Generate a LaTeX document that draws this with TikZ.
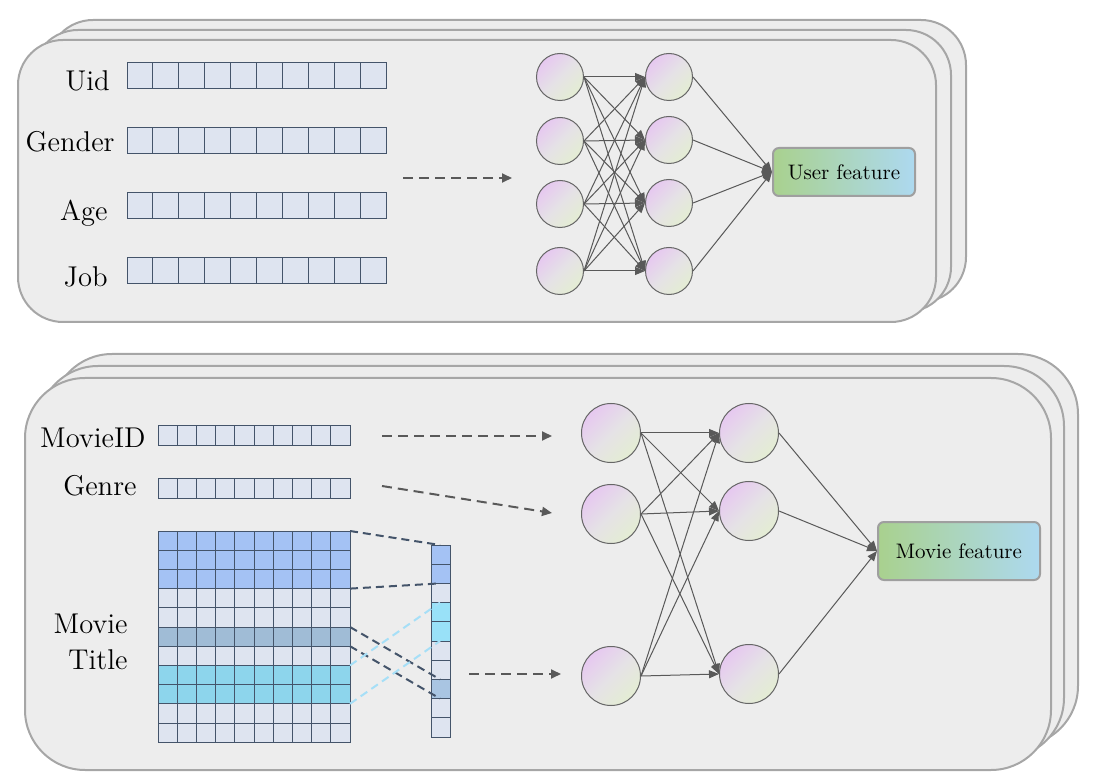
\documentclass[tikz,border=0pt]{standalone}
\usepackage{tikz}
\usetikzlibrary{arrows.meta, positioning}

\definecolor{panelfill}{HTML}{EDEDED}
\definecolor{panelline}{HTML}{A6A6A6}
\definecolor{cellfill}{HTML}{DEE4F0}
\definecolor{cellline}{HTML}{44546A}
\definecolor{wordblue}{HTML}{A4C2F4}
\definecolor{wordcyan}{HTML}{8DD5EC}
\definecolor{wordgray}{HTML}{A0BCD6}
\definecolor{veccyan}{HTML}{99E1F8}
\definecolor{vecgray}{HTML}{A9C5E2}
\definecolor{linkcyan}{HTML}{A6DFF7}
\definecolor{nlilac}{HTML}{E6C8F0}
\definecolor{nmid}{HTML}{E5E2E6}
\definecolor{ngreen}{HTML}{E4EDD3}
\definecolor{featgreen}{HTML}{A9D18E}
\definecolor{featblue}{HTML}{ADD9F0}
\definecolor{arrowgray}{HTML}{595959}

\newcommand{\fieldfont}{\fontsize{14.3}{17}\selectfont}
\newcommand{\featfont}{\fontsize{10.5}{12}\selectfont}

\tikzset{
  panel/.style={draw=panelline, fill=panelfill, line width=1pt},
  cell/.style={draw=cellline, line width=0.5pt},
  fieldname/.style={font=\fieldfont, inner sep=0pt},
  neuron/.style={circle, draw=gray!80!black, line width=0.5pt, inner sep=0pt,
    top color=nlilac, bottom color=ngreen, middle color=nmid, shading angle=45},
  feature/.style={draw=gray!75, line width=1pt, rounded corners=3pt, font=\featfont,
    left color=featgreen, right color=featblue},
  synapse/.style={draw=arrowgray, line width=0.5pt, -{Triangle[length=5pt,width=4pt]}},
  flow/.style={draw=arrowgray, line width=1pt, dash pattern=on 5pt off 3pt,
    -{Triangle[length=5pt,width=4.5pt]}},
  darklink/.style={draw=cellline, line width=1pt, dash pattern=on 4pt off 2.5pt},
  cyanlink/.style={draw=linkcyan, line width=1pt, dash pattern=on 4pt off 2.5pt}
}

\begin{document}
\begin{tikzpicture}[x=0.5pt, y=-0.5pt]
\useasboundingbox (0,0) rectangle (1100,781);

% user side
\draw[panel, rounded corners=22.5pt] (48,20) rectangle (966,302);
\draw[panel, rounded corners=22.5pt] (33,30) rectangle (951,312);
\draw[panel, rounded corners=22.5pt] (18,40) rectangle (936,322);

\node[fieldname, anchor=base east] (uid) at (110,91) {Uid};
\node[fieldname, anchor=base east] (gender) at (115,152) {Gender};
\node[fieldname, anchor=base east] (age) at (108,221) {Age};
\node[fieldname, anchor=base east] (job) at (108,286) {Job};
\foreach \y in {63,128,193,258}
  \foreach \i in {0,...,9}
    \draw[cell, fill=cellfill] (127+\i*25.9,\y) rectangle ++(25.9,26);

\coordinate (userin) at (403,178);
\coordinate (userout) at (512,178);
\draw[flow] (userin) -- (userout);

\foreach \y [count=\i] in {77,141,204,271}
  \node[neuron, minimum size=23.5pt] (ua\i) at (560,\y) {};
\foreach \y [count=\i] in {77,140,203,271}
  \node[neuron, minimum size=23.5pt] (ub\i) at (669,\y) {};
\node[feature, minimum width=71pt, minimum height=24pt] (user) at (844,172) {User feature};

\foreach \i in {1,...,4}
  \foreach \j in {1,...,4}
    \draw[synapse] (ua\i.east) -- (ub\j.west);
\foreach \j in {1,...,4}
  \draw[synapse] (ub\j.east) -- (user.west);

% movie side
\draw[panel, rounded corners=30pt] (52,354) rectangle (1078,746);
\draw[panel, rounded corners=30pt] (38,366) rectangle (1064,758);
\draw[panel, rounded corners=30pt] (25,378) rectangle (1051,770);

\node[fieldname, anchor=base east] (movieid) at (146,448) {MovieID};
\node[fieldname, anchor=base east] (genre) at (137,495) {Genre};
\node[fieldname, anchor=base east] (movie) at (128,633) {Movie};
\node[fieldname, anchor=base east] (title) at (128,669) {Title};

\foreach \y in {426,479}
  \foreach \i in {0,...,9}
    \draw[cell, fill=cellfill] (158+\i*19.2,\y) rectangle ++(19.2,19.2);

% title words and pooled vector
\foreach \r/\c in {0/wordblue,1/wordblue,2/wordblue,3/cellfill,4/cellfill,5/wordgray,
                   6/cellfill,7/wordcyan,8/wordcyan,9/cellfill,10/cellfill}
  \foreach \i in {0,...,9}
    \draw[cell, fill=\c] (158+\i*19.2,531+\r*19.2) rectangle ++(19.2,19.2);
\foreach \r/\c in {0/wordblue,1/wordblue,2/cellfill,3/veccyan,4/veccyan,5/cellfill,
                   6/cellfill,7/vecgray,8/cellfill,9/cellfill}
  \draw[cell, fill=\c] (431,545+\r*19.2) rectangle ++(19.2,19.2);

\coordinate (blueA) at (350,531);
\coordinate (blueB) at (350,588.6);
\coordinate (grayA) at (350,627);
\coordinate (grayB) at (350,646.2);
\coordinate (cyanA) at (350,665.4);
\coordinate (cyanB) at (350,703.8);
\coordinate (vblueA) at (440,545);
\coordinate (vblueB) at (440,583.4);
\coordinate (vcyanA) at (440,602.6);
\coordinate (vcyanB) at (440,641);
\coordinate (vgrayA) at (440,679.4);
\coordinate (vgrayB) at (440,698.6);
\draw[darklink] (blueA) -- (vblueA);
\draw[darklink] (blueB) -- (vblueB);
\draw[darklink] (grayA) -- (vgrayA);
\draw[darklink] (grayB) -- (vgrayB);
\draw[cyanlink] (cyanA) -- (vcyanA);
\draw[cyanlink] (cyanB) -- (vcyanB);

\coordinate (idin) at (382,436);
\coordinate (idout) at (552,436);
\coordinate (genrein) at (382,486);
\coordinate (genreout) at (552,513);
\coordinate (titlein) at (469,674);
\coordinate (titleout) at (561,674);
\draw[flow] (idin) -- (idout);
\draw[flow] (genrein) -- (genreout);
\draw[flow] (titlein) -- (titleout);

\foreach \y [count=\i] in {433,514,676}
  \node[neuron, minimum size=29.5pt] (ma\i) at (611,\y) {};
\foreach \y [count=\i] in {433,511,674}
  \node[neuron, minimum size=29.5pt] (mb\i) at (749,\y) {};
\node[feature, minimum width=81pt, minimum height=29pt] (movief) at (959,551) {Movie feature};

\foreach \i in {1,...,3}
  \foreach \j in {1,...,3}
    \draw[synapse] (ma\i.east) -- (mb\j.west);
\foreach \j in {1,...,3}
  \draw[synapse] (mb\j.east) -- (movief.west);
\end{tikzpicture}
\end{document}
